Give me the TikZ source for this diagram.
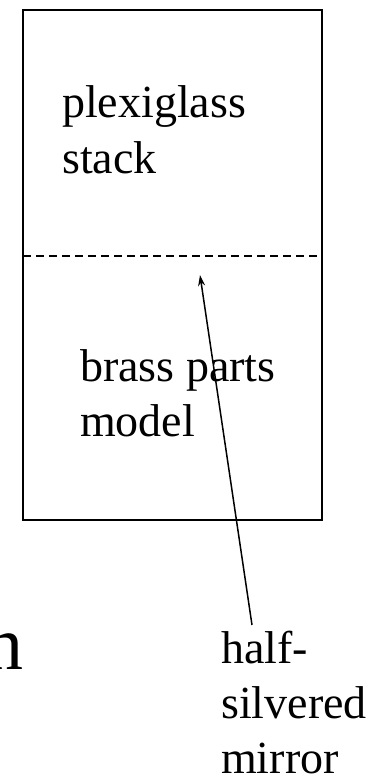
\documentclass[tikz,border=0pt]{standalone}
\usepackage{fontspec}
\setmainfont{Liberation Serif}
\usetikzlibrary{arrows.meta}
\begin{document}
\begin{tikzpicture}[x=1pt,y=-1pt,
  lbl/.style={inner sep=0pt, anchor=base west, align=left, font=\fontsize{46}{55}\selectfont},
  boxstyle/.style={draw, line width=2pt, inner sep=0pt, minimum width=299pt, minimum height=510pt},
  mirrorline/.style={line width=1.8pt, dash pattern=on 8pt off 5pt},
  pointer/.style={line width=1.5pt, -{Stealth[length=11pt,width=7pt]}}]
\useasboundingbox (0,0) rectangle (387,778);
\node[boxstyle] (box) at (172.5,265) {};
\coordinate (mleft) at (23,256);
\coordinate (mright) at (322,256);
\draw[mirrorline] (mleft) -- (mright);
% base anchor of a multi-line node is the baseline of its last line
\node[lbl] (plexi) at (62,173) {plexiglass\\stack};
\node[lbl] (brass) at (80,436) {brass parts\\model};
\node[lbl] (half) at (221,773) {half-\\silvered\\mirror};
\node[inner sep=0pt, anchor=base west, font=\fontsize{76}{90}\selectfont] (frag) at (-15,669) {n};
\coordinate (tail) at (252,625);
\coordinate (tip) at (200,275);
\draw[pointer] (tail) -- (tip);
\end{tikzpicture}
\end{document}
